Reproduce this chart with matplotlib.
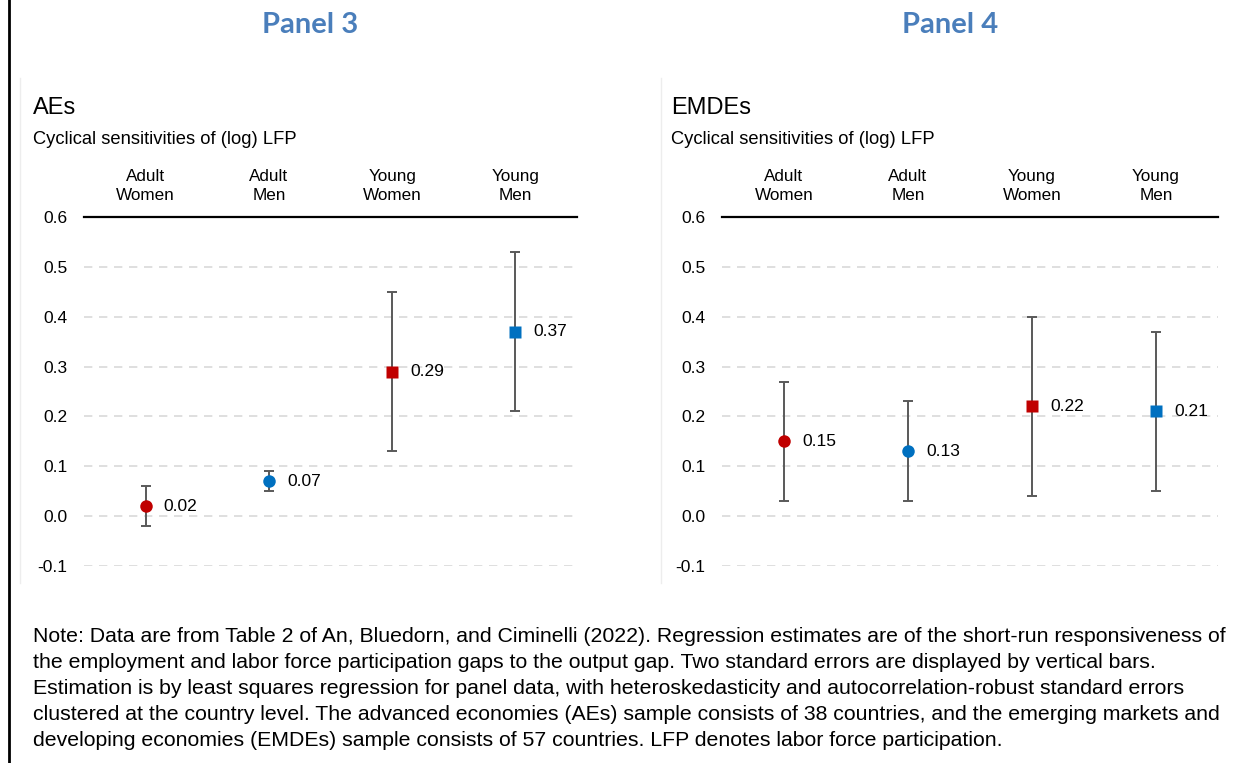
import matplotlib
matplotlib.use('Agg')
from matplotlib import pyplot as plt
from matplotlib.lines import Line2D

categorias = ['Adult\nWomen', 'Adult\nMen', 'Young\nWomen', 'Young\nMen']
colores = ['#C00000', '#0070C0', '#C00000', '#0070C0']
marcadores = ['o', 'o', 's', 's']

# AEs
aes_valor = [0.02, 0.07, 0.29, 0.37]
aes_inferior = [-0.02, 0.05, 0.13, 0.21]
aes_superior = [0.06, 0.09, 0.45, 0.53]

# EMDEs
emdes_valor = [0.15, 0.13, 0.22, 0.21]
emdes_inferior = [0.03, 0.03, 0.04, 0.05]
emdes_superior = [0.27, 0.23, 0.40, 0.37]

yticks = [-0.1, 0.0, 0.1, 0.2, 0.3, 0.4, 0.5, 0.6]

nota = ("Note: Data are from Table 2 of An, Bluedorn, and Ciminelli (2022). Regression estimates are of the short-run responsiveness of\n"
        "the employment and labor force participation gaps to the output gap. Two standard errors are displayed by vertical bars.\n"
        "Estimation is by least squares regression for panel data, with heteroskedasticity and autocorrelation-robust standard errors\n"
        "clustered at the country level. The advanced economies (AEs) sample consists of 38 countries, and the emerging markets and\n"
        "developing economies (EMDEs) sample consists of 57 countries. LFP denotes labor force participation.")

plt.rcParams['font.family'] = ['Liberation Sans', 'DejaVu Sans']

W, H = 1243, 763
fig = plt.figure(figsize=(W / 100, H / 100), dpi=100)


def dibuja_panel(rect, valores, inferiores, superiores, titulo, panel, x_texto, x_panel):
    ax = fig.add_axes(rect)
    xs = list(range(len(valores)))
    for y in yticks[:-1]:
        ax.axhline(y, color='#D9D9D9', lw=1.2, ls=(0, (5, 4)), zorder=0)
    for i in xs:
        ax.errorbar(xs[i], valores[i],
                    yerr=[[valores[i] - inferiores[i]], [superiores[i] - valores[i]]],
                    fmt='none', ecolor='#595959', elinewidth=1.4, capsize=3.8, capthick=1.4, zorder=2)
        ax.plot(xs[i], valores[i], marker=marcadores[i], color=colores[i], ms=9, mec='none', zorder=3)
        ax.annotate(f'{valores[i]:.2f}', (xs[i], valores[i]), xytext=(13, 0),
                    textcoords='offset points', va='center', ha='left', fontsize=12.5, color='black')
    for i, cat in enumerate(categorias):
        ax.text(xs[i], 1.088, cat, transform=ax.get_xaxis_transform(), ha='center', va='center',
                fontsize=12.3, linespacing=1.35)
    ax.set_xlim(-0.5, 3.5)
    ax.set_ylim(-0.1, 0.6)
    ax.set_yticks(yticks)
    ax.set_yticklabels([f'{t:.1f}' for t in yticks], fontsize=12.5)
    ax.tick_params(axis='y', length=0, pad=12)
    ax.set_xticks([])
    for lado in ['left', 'right', 'bottom']:
        ax.spines[lado].set_visible(False)
    ax.spines['top'].set_linewidth(1.6)
    ax.spines['top'].set_color('black')
    ax.patch.set_alpha(0)

    fig.text(x_texto / W, 1 - 108 / H, titulo, fontsize=17, va='center', ha='left')
    fig.text(x_texto / W, 1 - 140 / H, 'Cyclical sensitivities of (log) LFP', fontsize=13.2,
             va='center', ha='left')
    fig.text(x_panel / W, 1 - 25 / H, panel, fontsize=21, fontweight='bold', color='#4A7EBB',
             family=['Lato', 'DejaVu Sans'], va='center', ha='center')
    return ax


dibuja_panel([84 / W, 1 - 566 / H, 493 / W, 349 / H], aes_valor, aes_inferior, aes_superior,
             'AEs', 'Panel 3', 33, 310)
dibuja_panel([722 / W, 1 - 566 / H, 496 / W, 349 / H], emdes_valor, emdes_inferior, emdes_superior,
             'EMDEs', 'Panel 4', 671, 950)

# bordes
fig.add_artist(Line2D([9 / W, 9 / W], [0, 1], color='black', lw=2))
fig.add_artist(Line2D([20 / W, 20 / W], [1 - 583 / H, 1 - 78 / H], color='#EDEDED', lw=1))
fig.add_artist(Line2D([661 / W, 661 / W], [1 - 583 / H, 1 - 78 / H], color='#EDEDED', lw=1))

fig.text(33 / W, 1 - 627 / H, nota, fontsize=15.35, va='top', ha='left', linespacing=1.47)

fig.savefig('out.png', dpi=100)
